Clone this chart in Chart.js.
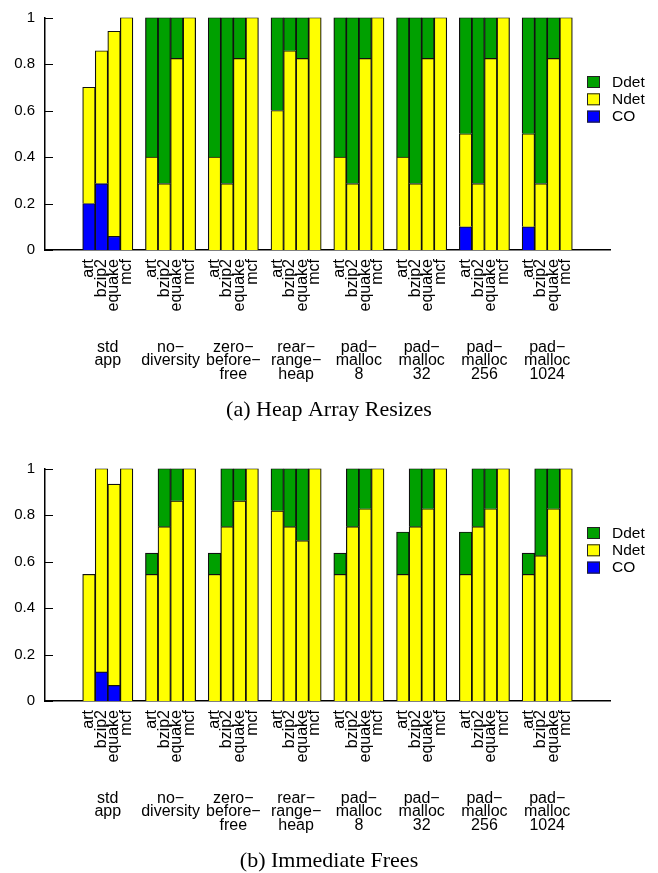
<!DOCTYPE html>
<html>
<head>
<meta charset="utf-8">
<script src="https://cdn.jsdelivr.net/npm/chart.js@4.4.1/dist/chart.umd.min.js"></script>
<style>
  body { margin: 0; background: #fff; overflow: hidden; }
  canvas { display: block; }
</style>
</head>
<body>
<canvas id="heapChart" width="658" height="451"></canvas>
<canvas id="freesChart" width="658" height="424"></canvas>
<script>
// benchmarks inside each configuration group
const benchmarks = ['art', 'bzip2', 'equake', 'mcf'];
const configs = [
  ['std', 'app'],
  ['no\u2212', 'diversity'],
  ['zero\u2212', 'before\u2212', 'free'],
  ['rear\u2212', 'range\u2212', 'heap'],
  ['pad\u2212', 'malloc', '8'],
  ['pad\u2212', 'malloc', '32'],
  ['pad\u2212', 'malloc', '256'],
  ['pad\u2212', 'malloc', '1024']
];
const yTicks = [0, 0.2, 0.4, 0.6, 0.8, 1];

// (a) Heap Array Resizes, one row per config: art, bzip2, equake, mcf
const heapCO = [
  0.2, 0.286, 0.059, 0,
  0, 0, 0, 0,
  0, 0, 0, 0,
  0, 0, 0, 0,
  0, 0, 0, 0,
  0, 0, 0, 0,
  0.1, 0, 0, 0,
  0.1, 0, 0, 0
];
const heapNdet = [
  0.5, 0.571, 0.882, 1,
  0.4, 0.286, 0.824, 1,
  0.4, 0.286, 0.824, 1,
  0.6, 0.857, 0.824, 1,
  0.4, 0.286, 0.824, 1,
  0.4, 0.286, 0.824, 1,
  0.4, 0.286, 0.824, 1,
  0.4, 0.286, 0.824, 1
];
const heapDdet = [
  0, 0, 0, 0,
  0.6, 0.714, 0.176, 0,
  0.6, 0.714, 0.176, 0,
  0.4, 0.143, 0.176, 0,
  0.6, 0.714, 0.176, 0,
  0.6, 0.714, 0.176, 0,
  0.5, 0.714, 0.176, 0,
  0.5, 0.714, 0.176, 0
];

// (b) Immediate Frees
const freesCO = [
  0, 0.125, 0.067, 0,
  0, 0, 0, 0,
  0, 0, 0, 0,
  0, 0, 0, 0,
  0, 0, 0, 0,
  0, 0, 0, 0,
  0, 0, 0, 0,
  0, 0, 0, 0
];
const freesNdet = [
  0.545, 0.875, 0.866, 1,
  0.545, 0.75, 0.861, 1,
  0.545, 0.75, 0.861, 1,
  0.818, 0.75, 0.69, 1,
  0.545, 0.75, 0.827, 1,
  0.545, 0.75, 0.827, 1,
  0.545, 0.75, 0.827, 1,
  0.545, 0.625, 0.827, 1
];
const freesDdet = [
  0, 0, 0, 0,
  0.091, 0.25, 0.139, 0,
  0.091, 0.25, 0.139, 0,
  0.182, 0.25, 0.31, 0,
  0.091, 0.25, 0.173, 0,
  0.182, 0.25, 0.173, 0,
  0.182, 0.25, 0.173, 0,
  0.091, 0.375, 0.173, 0
];

const seriesNames = ['CO', 'Ndet', 'Ddet'];
const seriesColors = ['#0000ff', '#ffff00', '#00a000'];

Chart.defaults.font.family = "'Liberation Sans', Arial, sans-serif";
Chart.defaults.font.size = 15;
Chart.defaults.color = '#000';

// 3 empty slots, then each config's 4 bars followed by one gap, then 2 more empty slots
function slotLabels() {
  const out = ['', '', ''];
  configs.forEach(() => {
    benchmarks.forEach(b => out.push(b));
    out.push('');
  });
  out.push('', '');
  return out;
}

function slotValues(values) {
  const out = [null, null, null];
  configs.forEach((c, g) => {
    benchmarks.forEach((b, i) => {
      const v = values[g * benchmarks.length + i];
      out.push(v > 0 ? v : null);
    });
    out.push(null);
  });
  out.push(null, null);
  return out;
}

// gnuplot-style key and inward tick marks
const gnuplotLook = {
  id: 'gnuplotLook',
  afterDraw(chart) {
    const ctx = chart.ctx;
    const area = chart.chartArea;
    const y = chart.scales.y;
    ctx.save();
    ctx.strokeStyle = '#000';
    ctx.lineWidth = 1;
    y.ticks.forEach(t => {
      const py = Math.round(y.getPixelForValue(t.value)) + 0.5;
      ctx.beginPath();
      ctx.moveTo(area.left, py);
      ctx.lineTo(area.left + 8, py);
      ctx.stroke();
    });

    const sets = chart.data.datasets.slice().reverse();
    ctx.font = "15.5px 'Liberation Sans', Arial, sans-serif";
    ctx.textBaseline = 'middle';
    ctx.textAlign = 'left';
    sets.forEach((ds, i) => {
      const bx = area.right - 23;
      const by = area.top + 58.5 + i * 17.3;
      ctx.fillStyle = ds.backgroundColor;
      ctx.fillRect(bx, by, 13, 12);
      ctx.strokeStyle = '#222';
      ctx.strokeRect(bx + 0.5, by + 0.5, 12, 11);
      ctx.fillStyle = '#000';
      ctx.fillText(ds.label, bx + 25, by + 6.5);
    });
    ctx.restore();
  }
};

function buildChart(canvasId, series, caption, padBottom) {
  return new Chart(document.getElementById(canvasId), {
    type: 'bar',
    data: {
      labels: slotLabels(),
      datasets: series.map((values, i) => ({
        label: seriesNames[i],
        data: slotValues(values),
        backgroundColor: seriesColors[i],
        borderColor: '#111',
        borderWidth: 1.2,
        barPercentage: 1,
        categoryPercentage: 1
      }))
    },
    options: {
      responsive: false,
      animation: false,
      devicePixelRatio: 1,
      layout: { padding: { top: 0, right: 0, bottom: padBottom, left: 0 } },
      plugins: {
        legend: { display: false },
        tooltip: { enabled: false },
        title: {
          display: true,
          position: 'bottom',
          text: caption,
          padding: { top: 0, bottom: 0 },
          font: { family: "'Liberation Serif', 'Times New Roman', serif", size: 22, weight: 'normal', lineHeight: 1.2 }
        }
      },
      scales: {
        x: {
          stacked: true,
          grid: { display: false, drawTicks: false },
          border: { display: true, color: '#000', width: 1.5 },
          ticks: { autoSkip: false, minRotation: 90, maxRotation: 90, padding: 9, font: { size: 16, lineHeight: 1 } },
          afterFit: s => { s.height = 80; }
        },
        x2: {
          type: 'category',
          position: 'bottom',
          labels: ['', ...configs, ''],
          offset: false,
          weight: 1,
          grid: { display: false, drawTicks: false },
          border: { display: false },
          ticks: { autoSkip: false, maxRotation: 0, padding: 11, font: { size: 16, lineHeight: 0.83 } },
          afterFit: s => { s.height = 66.8; }
        },
        y: {
          stacked: true,
          min: 0,
          max: 1,
          grid: { display: false, drawTicks: false },
          border: { display: true, color: '#000', width: 1.5 },
          afterBuildTicks: s => { s.ticks = yTicks.map(v => ({ value: v })); },
          ticks: {
            padding: 10,
            font: { size: 15, lineHeight: 1 },
            callback: v => String(Number(v.toFixed(1)))
          },
          afterFit: s => { s.width = 45; }
        },
        // empty right-hand strip where the key sits, keeps the caption centred on the page
        keyStrip: {
          axis: 'y',
          position: 'right',
          grid: { display: false, drawTicks: false },
          border: { display: false },
          ticks: { display: false },
          afterFit: s => { s.width = 48; }
        }
      }
    },
    plugins: [gnuplotLook]
  });
}

buildChart('heapChart', [heapCO, heapNdet, heapDdet], '(a) Heap Array Resizes', 27.8);
buildChart('freesChart', [freesCO, freesNdet, freesDdet], '(b) Immediate Frees', 0.8);
</script>
</body>
</html>
